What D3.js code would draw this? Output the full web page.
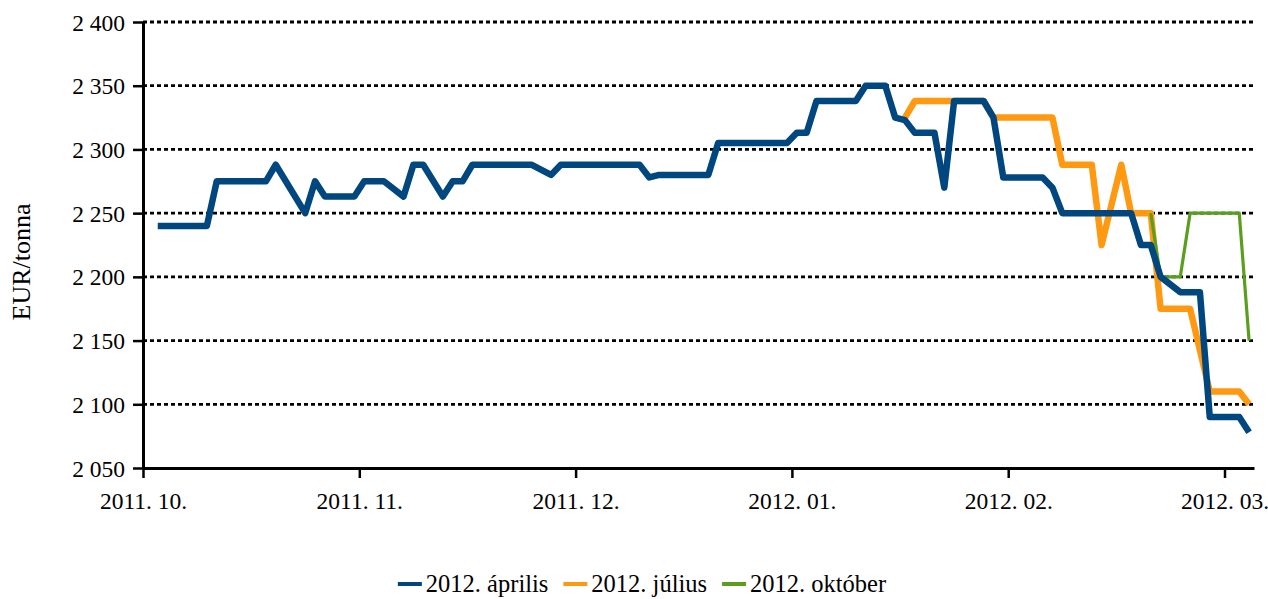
<!DOCTYPE html>
<html>
<head>
<meta charset="utf-8">
<script src="https://cdn.jsdelivr.net/npm/d3@7"></script>
<style>
  body { margin: 0; background: #fff; }
  text { font-family: "Liberation Serif", "Times New Roman", serif; fill: #000; }
</style>
</head>
<body>
<svg id="chart" width="1268" height="599"></svg>
<script>
// Trading-day category axis: first and last session shown
const firstSession = "2011-10-03";
const lastSession = "2012-03-07";
const labelEvery = 22;                 // one month label every 22 sessions
const yTicks = [2050, 2100, 2150, 2200, 2250, 2300, 2350, 2400];
const seriesNames = ["2012. április", "2012. július", "2012. október"];
const seriesColors = ["#00467f", "#ff9912", "#5a9e1e"];
const yTitle = "EUR/tonna";

// Settlement prices (EUR/t); listed at the sessions where the curve changes course
const aprilis = [
  ["2011-10-04", 2240], ["2011-10-11", 2240], ["2011-10-12", 2275], ["2011-10-19", 2275],
  ["2011-10-20", 2288], ["2011-10-25", 2250], ["2011-10-26", 2275], ["2011-10-27", 2263],
  ["2011-11-01", 2263], ["2011-11-02", 2275], ["2011-11-04", 2275], ["2011-11-08", 2263],
  ["2011-11-09", 2288], ["2011-11-10", 2288], ["2011-11-14", 2263], ["2011-11-15", 2275],
  ["2011-11-16", 2275], ["2011-11-17", 2288], ["2011-11-25", 2288], ["2011-11-29", 2280],
  ["2011-11-30", 2288], ["2011-12-12", 2288], ["2011-12-13", 2278], ["2011-12-14", 2280],
  ["2011-12-21", 2280], ["2011-12-22", 2305], ["2012-01-02", 2305], ["2012-01-03", 2313],
  ["2012-01-04", 2313], ["2012-01-05", 2338], ["2012-01-11", 2338], ["2012-01-12", 2350],
  ["2012-01-16", 2350], ["2012-01-17", 2325], ["2012-01-18", 2323], ["2012-01-19", 2313],
  ["2012-01-23", 2313], ["2012-01-24", 2270], ["2012-01-25", 2338], ["2012-01-30", 2338],
  ["2012-01-31", 2325], ["2012-02-01", 2278], ["2012-02-07", 2278], ["2012-02-08", 2270],
  ["2012-02-09", 2250], ["2012-02-20", 2250], ["2012-02-21", 2225], ["2012-02-22", 2225],
  ["2012-02-23", 2200], ["2012-02-27", 2188], ["2012-02-29", 2188], ["2012-03-01", 2090],
  ["2012-03-06", 2090], ["2012-03-07", 2078]
];
const julius = [
  ["2012-01-18", 2325], ["2012-01-19", 2338], ["2012-01-30", 2338], ["2012-01-31", 2325],
  ["2012-02-08", 2325], ["2012-02-09", 2288], ["2012-02-14", 2288], ["2012-02-15", 2225],
  ["2012-02-17", 2288], ["2012-02-20", 2250], ["2012-02-22", 2250], ["2012-02-23", 2175],
  ["2012-02-28", 2175], ["2012-03-01", 2110], ["2012-03-06", 2110], ["2012-03-07", 2100]
];
const oktober = [
  ["2012-02-22", 2250], ["2012-02-23", 2200], ["2012-02-27", 2200], ["2012-02-28", 2250],
  ["2012-03-06", 2250], ["2012-03-07", 2150]
];

const svg = d3.select("#chart");
const serif = '"Liberation Serif", "Times New Roman", serif';
const parse = d3.timeParse("%Y-%m-%d");
const key = d3.timeFormat("%Y-%m-%d");
const monthLabel = d3.timeFormat("%Y. %m.");

// weekday sessions between the first and last date
const sessions = d3.timeDay.range(parse(firstSession), d3.timeDay.offset(parse(lastSession), 1))
  .filter(d => d.getDay() !== 0 && d.getDay() !== 6)
  .map(key);

const plot = { left: 143, right: 1254, top: 22, bottom: 468 };

const x = d3.scaleBand().domain(sessions).range([plot.left, plot.right]).padding(0);
const xIndex = d3.scaleLinear().domain([0, sessions.length]).range([plot.left, plot.right]);
const y = d3.scaleLinear().domain([2050, 2400]).range([plot.bottom, plot.top]);

const huLocale = d3.formatLocale({ decimal: ",", thousands: " ", grouping: [3], currency: ["", " €"] });
const fmtY = huLocale.format(",d");

// horizontal dotted gridlines
svg.append("g")
  .selectAll("line")
  .data(yTicks.filter(v => v > 2050))
  .join("line")
  .attr("x1", plot.left).attr("x2", plot.right)
  .attr("y1", d => y(d)).attr("y2", d => y(d))
  .attr("stroke", "#000").attr("stroke-width", 2.8)
  .attr("stroke-dasharray", "4,3");

// series
const line = d3.line()
  .x(d => x(d[0]) + x.bandwidth() / 2)
  .y(d => y(d[1]));

const series = [
  { name: seriesNames[1], data: julius, color: seriesColors[1], width: 6.5 },
  { name: seriesNames[2], data: oktober, color: seriesColors[2], width: 3.2 },
  { name: seriesNames[0], data: aprilis, color: seriesColors[0], width: 6.5 }
];
svg.append("g")
  .selectAll("path")
  .data(series)
  .join("path")
  .attr("d", d => line(d.data))
  .attr("fill", "none")
  .attr("stroke", d => d.color)
  .attr("stroke-width", d => d.width)
  .attr("stroke-linejoin", "round")
  .attr("stroke-linecap", "butt");

// y axis
const yAxis = svg.append("g")
  .attr("transform", `translate(${plot.left},0)`)
  .call(d3.axisLeft(y).tickValues(yTicks).tickFormat(fmtY).tickSize(10).tickSizeOuter(0).tickPadding(8));
yAxis.select(".domain").attr("stroke-width", 3);
yAxis.selectAll(".tick line").attr("stroke-width", 2.5);
yAxis.selectAll(".tick text").style("font-family", serif).style("font-size", "23.5px").attr("dy", "0.34em");

// x axis: month labels every 22 sessions, ticks on session boundaries
const labelIdx = d3.range(0, sessions.length, labelEvery);
const xAxis = svg.append("g")
  .attr("transform", `translate(0,${plot.bottom})`)
  .call(d3.axisBottom(xIndex).tickValues(labelIdx)
    .tickFormat(i => monthLabel(parse(sessions[i])))
    .tickSize(10).tickSizeOuter(0).tickPadding(14));
xAxis.select(".domain").attr("stroke-width", 3);
xAxis.selectAll(".tick line").attr("stroke-width", 2.5);
xAxis.selectAll(".tick text").style("font-family", serif).style("font-size", "23.5px");

// y axis title
svg.append("text")
  .attr("transform", "translate(30,262) rotate(-90)")
  .attr("text-anchor", "middle")
  .style("font-family", serif)
  .style("font-size", "26px")
  .text(yTitle);

// legend, centred under the plot
const legend = svg.append("g");
const gap = 15;
let cursor = 0;
seriesNames.forEach((name, k) => {
  const g = legend.append("g").attr("transform", `translate(${cursor},0)`);
  g.append("line").attr("x1", 0).attr("x2", 24).attr("y1", 0).attr("y2", 0)
    .attr("stroke", seriesColors[k]).attr("stroke-width", 4);
  const t = g.append("text").attr("x", 28).attr("y", 8)
    .style("font-family", serif).style("font-size", "24.5px").text(name);
  cursor += 28 + t.node().getComputedTextLength() + gap;
});
const legendWidth = cursor - gap;
legend.attr("transform", `translate(${642 - legendWidth / 2},584)`);
</script>
</body>
</html>
